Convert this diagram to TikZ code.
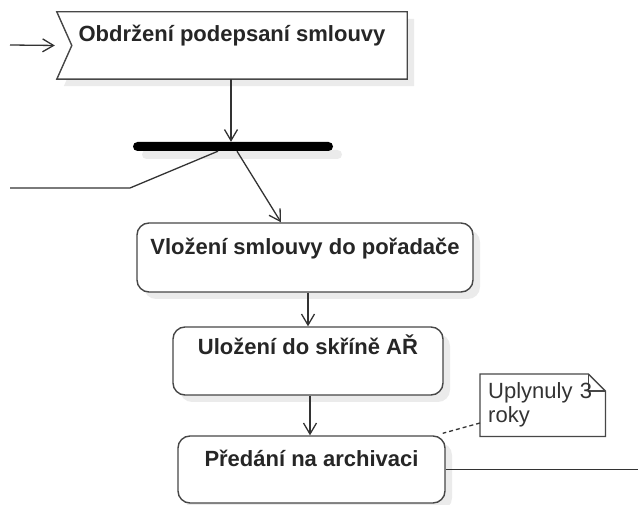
\documentclass[tikz,border=0pt]{standalone}
\usepackage{fontspec}
\setmainfont{Liberation Sans}
\usetikzlibrary{arrows.meta,calc,shadows,backgrounds}
\begin{document}
\begin{tikzpicture}[x=1pt,y=-1pt,
  line/.style={draw=black!80, line width=1.3pt},
  flow/.style={line, -{Straight Barb[length=11pt,width=13pt,line width=1.3pt]}},
  shad/.style={drop shadow={shadow xshift=7pt, shadow yshift=-7pt, fill=black!8, opacity=1}},
  act/.style={draw=black!72, line width=1.4pt, fill=white, rounded corners=12pt, inner sep=0pt,
     font=\fontsize{22}{24}\selectfont\bfseries, text=black!85, shad},
  notetext/.style={anchor=north west, inner xsep=8pt, inner ysep=0pt, align=left, text width=109pt,
     minimum width=125pt, minimum height=62pt, font=\fontsize{22}{24}\selectfont, text=black!80},
  ]
\useasboundingbox (0,0) rectangle (638,505);

% accept event
\node[inner sep=0pt, minimum width=350pt, minimum height=67pt, text height=29.7pt, text depth=37.3pt,
      font=\fontsize{22}{24}\selectfont\bfseries, text=black!85] (acc) at (232,45.5) {Obdržení podepsaní smlouvy};
\begin{scope}[on background layer]
  \fill[black!8] ($(acc.north west)+(7,7)$) -- ($(acc.north east)+(7,7)$) -- ($(acc.south east)+(7,7)$)
     -- ($(acc.south west)+(7,7)$) -- ($(acc.west)+(22,7)$) -- cycle;
  \filldraw[fill=white, draw=black!72, line width=1.4pt] (acc.north west) -- (acc.north east) -- (acc.south east)
     -- (acc.south west) -- ($(acc.west)+(15,0)$) -- cycle;
\end{scope}

% fork bar
\node[fill=black, rounded corners=4.5pt, minimum width=200pt, minimum height=9pt, inner sep=0pt,
      drop shadow={shadow xshift=9pt, shadow yshift=-8pt, fill=black!8, opacity=1}] (bar) at (233,146.5) {};

% activities
\node[act, minimum width=336pt, minimum height=69pt, text height=32pt, text depth=37pt] (b1) at (305,257.5) {Vložení smlouvy do pořadače};
\node[act, minimum width=270pt, minimum height=68pt, text height=28pt, text depth=40pt] (b2) at (308,361) {Uložení do skříně AŘ};
\node[act, minimum width=267pt, minimum height=67pt, text height=30pt, text depth=37pt] (b3) at (311.5,469.5) {Předání na archivaci};

% note
\node[notetext] (note) at (480,374) {Uplynuly 3\\roky};
\begin{scope}[on background layer]
  \draw[draw=black!72, line width=1.3pt, fill=white] (note.north west) -- ($(note.north east)+(-17,0)$) -- ($(note.north east)+(0,17)$)
     -- (note.south east) -- (note.south west) -- cycle;
  \draw[draw=black!72, line width=1.3pt] ($(note.north east)+(-17,0)$) -- ($(note.north east)+(-17,17)$) -- ($(note.north east)+(0,17)$);
\end{scope}

% connectors
\coordinate (in) at (10,45);
\coordinate (j0) at (10,188);
\coordinate (out) at (638,469.5);
\coordinate (nd) at (480,423);

\draw[flow, shorten >=2pt] (in) -- (acc.west);
\draw[flow] (acc.south -| bar.north) ++(-2,0) -- ($(bar.north)+(-2,0)$);
\draw[line] ($(bar.south)+(-15,0)$) -- (130,188) -- (j0);
\draw[flow] ($(bar.south)+(4,0)$) -- ($(b1.north)+(-24,0)$);
\draw[flow] (b2.north |- b1.south) -- (b2.north);
\draw[flow] ($(b2.south)+(2,0)$) -- ($(b3.north)+(-1.5,0)$);
\draw[line] (b3.east) -- (out);
\draw[line, dashed, dash pattern=on 4pt off 3pt] (nd) -- ($(b3.north east)+(-3,-2)$);
\end{tikzpicture}
\end{document}
